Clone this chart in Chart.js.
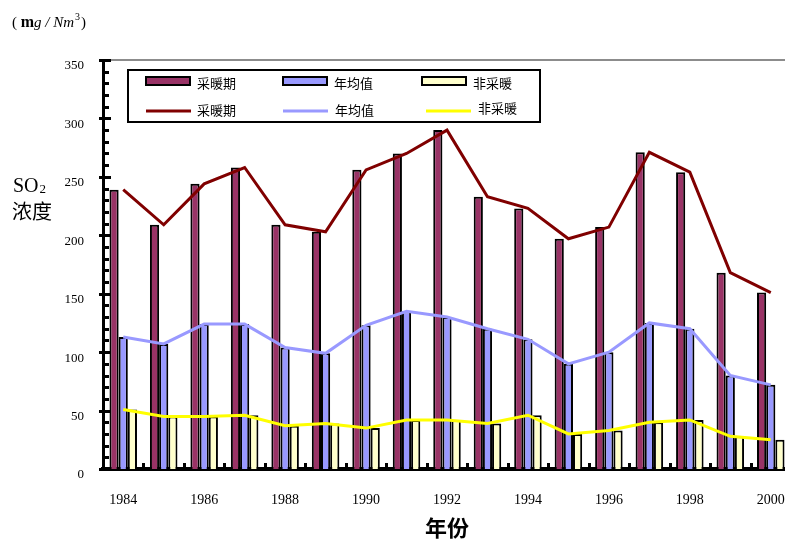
<!DOCTYPE html>
<html>
<head>
<meta charset="utf-8">
<script src="https://cdn.jsdelivr.net/npm/chart.js@4/dist/chart.umd.min.js"></script>
<style>
  html, body { margin: 0; padding: 0; background: #ffffff; overflow: hidden; }
  #wrap { width: 785px; height: 541px; position: relative; overflow: hidden; }
  #c { display: block; }
</style>
</head>
<body>
<div id="wrap"><canvas id="c" width="791" height="541"></canvas></div>
<script>
// SO2 concentration by year, heating season / annual mean / non-heating season
const years = ['1984','1985','1986','1987','1988','1989','1990','1991','1992',
               '1993','1994','1995','1996','1997','1998','1999','2000'];
const heating    = [239, 209, 244, 258, 209, 203, 256, 270, 290, 233, 223, 197, 207, 271, 254, 168, 151];
const annual     = [113, 107, 124, 124, 104,  99, 123, 135, 130, 120, 111,  90, 100, 125, 120,  80,  72];
const nonHeating = [ 51,  45,  45,  46,  37,  39,  35,  42,  42,  39,  46,  30,  33,  40,  42,  28,  25];
const seriesNames = ['采暖期', '年均值', '非采暖'];
const yLabelValues = [0, 50, 100, 150, 200, 250, 300, 350];
const xLabelYears = ['1984','1986','1988','1990','1992','1994','1996','1998','2000'];

const BAR_COLORS  = ['#993366', '#9999ff', '#ffffcc'];
const LINE_COLORS = ['#800000', '#9999ff', '#ffff00'];
const SERIF = "'Liberation Serif', 'Times New Roman', serif";
const CJK = "'Noto Sans CJK SC', 'Noto Sans', sans-serif";

const barSeries = [heating, annual, nonHeating];

const datasets = [];
barSeries.forEach((vals, i) => {
  datasets.push({
    type: 'bar',
    label: seriesNames[i],
    data: vals,
    backgroundColor: BAR_COLORS[i],
    borderColor: '#000000',
    borderWidth: 2,
    categoryPercentage: 0.68,
    barPercentage: 1.0,
    order: 1
  });
});
barSeries.forEach((vals, i) => {
  datasets.push({
    type: 'line',
    label: seriesNames[i],
    data: vals,
    borderColor: LINE_COLORS[i],
    backgroundColor: LINE_COLORS[i],
    borderWidth: 3,
    pointRadius: 0,
    tension: 0,
    fill: false,
    order: 0
  });
});

// axis ticks, frame, legend and side labels
const decor = {
  id: 'decor',
  afterDraw(chart) {
    const { ctx, chartArea: a, scales: { x, y } } = chart;
    ctx.save();

    // top edge of plot area
    ctx.strokeStyle = '#8c8c8c';
    ctx.lineWidth = 2;
    ctx.beginPath();
    ctx.moveTo(a.left, a.top);
    ctx.lineTo(a.right, a.top);
    ctx.stroke();

    // y-axis tick marks (major every 50, minor every 10)
    ctx.strokeStyle = '#000000';
    ctx.lineWidth = 3;
    y.ticks.forEach(t => {
      const py = Math.round(y.getPixelForValue(t.value)) + 0.5;
      const major = yLabelValues.includes(t.value);
      ctx.beginPath();
      ctx.moveTo(a.left - (major ? 4 : 0), py);
      ctx.lineTo(a.left + (major ? 8 : 6), py);
      ctx.stroke();
    });

    // x-axis category separators
    ctx.fillStyle = '#000000';
    const half = (x.getPixelForValue(1) - x.getPixelForValue(0)) / 2;
    for (let i = 1; i < years.length; i++) {
      const px = x.getPixelForValue(i) - half;
      ctx.fillRect(Math.round(px) - 1, a.bottom - 6, 3, 6);
    }

    // legend box
    const bx = 128, by = a.top + 10, bw = 412, bh = 52;
    ctx.fillStyle = '#ffffff';
    ctx.fillRect(bx, by, bw, bh);
    ctx.strokeStyle = '#000000';
    ctx.lineWidth = 2;
    ctx.strokeRect(bx, by, bw, bh);

    const colSwatch = [bx + 18, bx + 155, bx + 294];
    const colLineText = [bx + 69, bx + 207, bx + 350];
    ctx.font = '13px ' + CJK;
    ctx.textBaseline = 'middle';
    ctx.textAlign = 'left';
    for (let i = 0; i < 3; i++) {
      // bar swatch
      const sx = colSwatch[i], sy = by + 7;
      ctx.fillStyle = BAR_COLORS[i];
      ctx.fillRect(sx, sy, 44, 8);
      ctx.strokeStyle = '#000000';
      ctx.lineWidth = 2;
      ctx.strokeRect(sx, sy, 44, 8);
      ctx.fillStyle = '#000000';
      ctx.fillText(seriesNames[i], sx + 51, by + 13);
      // line swatch
      ctx.strokeStyle = LINE_COLORS[i];
      ctx.lineWidth = 3;
      ctx.beginPath();
      const lx = i === 2 ? sx + 4 : sx;
      ctx.moveTo(lx, by + 41);
      ctx.lineTo(lx + 45, by + 41);
      ctx.stroke();
      ctx.fillStyle = '#000000';
      ctx.fillText(seriesNames[i], colLineText[i], by + (i === 2 ? 38 : 40));
    }

    // unit label
    ctx.textBaseline = 'alphabetic';
    let cx = 12;
    const base = 27;
    const seg = (txt, font) => { ctx.font = font; ctx.fillText(txt, cx, base); cx += ctx.measureText(txt).width; };
    ctx.fillStyle = '#000000';
    seg('( ', '15px ' + SERIF);
    seg('m', 'bold 16px ' + SERIF);
    seg('g / Nm', 'italic 15px ' + SERIF);
    ctx.font = '10px ' + SERIF;
    ctx.fillText('3', cx + 1, base - 7);
    cx += ctx.measureText('3').width + 2;
    seg(')', '15px ' + SERIF);

    // y-axis caption
    ctx.font = '20px ' + SERIF;
    ctx.fillText('SO', 13, 192);
    const soW = ctx.measureText('SO').width;
    ctx.font = '13px ' + SERIF;
    ctx.fillText('2', 13 + soW + 1, 193);
    ctx.font = '20px ' + CJK;
    ctx.textBaseline = 'middle';
    ctx.fillText('浓度', 12, 211);

    ctx.restore();
  }
};

new Chart(document.getElementById('c'), {
  data: { labels: years, datasets },
  options: {
    responsive: false,
    animation: false,
    devicePixelRatio: 1,
    layout: { padding: { top: 60, left: 0, right: 0, bottom: 0 } },
    plugins: { legend: { display: false }, tooltip: { enabled: false } },
    scales: {
      x: {
        type: 'category',
        offset: true,
        grid: { display: false, drawTicks: false },
        border: { display: true, color: '#000000', width: 4 },
        ticks: {
          autoSkip: false,
          maxRotation: 0,
          padding: 23,
          color: '#000000',
          font: { family: SERIF, size: 14 },
          callback: function (v, i) { return xLabelYears.includes(years[i]) ? years[i] : ''; }
        },
        title: {
          display: true,
          text: '年份',
          color: '#000000',
          font: { family: CJK, size: 22, weight: 'bold' },
          padding: { top: 0, bottom: 0 }
        },
        afterFit: s => { s.height = 72; s.paddingLeft = 0; s.paddingRight = 0; }
      },
      y: {
        min: 0,
        max: 350,
        grid: { display: false, drawTicks: false },
        border: { display: true, color: '#000000', width: 3 },
        ticks: {
          stepSize: 10,
          autoSkip: false,
          padding: 19,
          labelOffset: 6,
          color: '#000000',
          font: { family: SERIF, size: 13 },
          callback: v => (yLabelValues.includes(v) ? String(v) : '')
        },
        afterFit: s => { s.width = 103; s.paddingTop = 0; s.paddingBottom = 0; }
      }
    }
  },
  plugins: [decor]
});
</script>
</body>
</html>
